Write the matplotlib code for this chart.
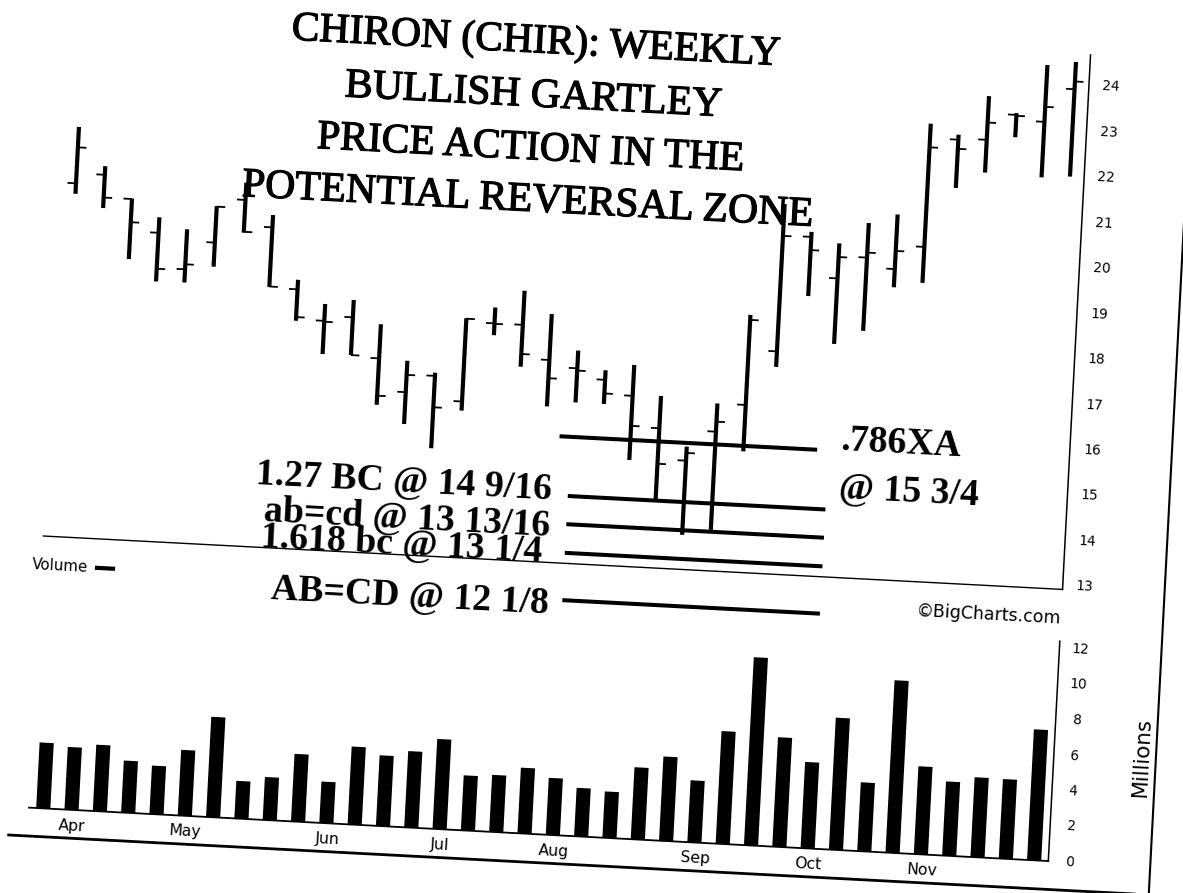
import matplotlib
matplotlib.use("Agg")
import matplotlib.pyplot as plt
import matplotlib.patheffects as pe
from matplotlib.transforms import Affine2D

# ---------------- data ----------------
weeks = list(range(36))
opens = [20.69, 20.91, 20.41, 19.70, 18.93, 19.55, 20.52, 19.95, 18.62, 17.96,
         18.07, 17.20, 16.49, 16.88, 16.35, 18.10, 18.10, 17.36, 17.21, 16.99,
         16.67, 15.99, 15.31, 15.98, 16.60, 17.81, 20.36, 19.48, 19.97, 19.75,
         20.27, 22.66, 22.69, 23.27, 23.15, 23.90]
highs = [21.93, 21.10, 20.42, 20.04, 19.81, 20.35, 20.90, 20.22, 18.83, 18.33,
         18.45, 17.95, 17.18, 16.95, 18.18, 18.45, 18.85, 18.37, 17.60, 17.20,
         17.35, 16.70, 15.62, 16.60, 18.58, 21.05, 20.47, 20.25, 20.73, 20.95,
         22.98, 22.77, 23.65, 23.31, 24.40, 24.50]
lows = [20.46, 20.18, 19.09, 18.63, 18.64, 19.02, 19.80, 18.64, 17.93, 17.23,
        17.24, 16.18, 15.79, 15.29, 16.15, 17.84, 17.18, 16.34, 16.46, 16.46,
        15.26, 14.43, 13.68, 13.82, 15.58, 17.47, 19.06, 18.04, 18.36, 19.35,
        19.48, 21.60, 21.97, 22.78, 21.93, 21.98]
closes = [21.48, 20.41, 19.90, 18.91, 19.04, 20.34, 19.82, 18.65, 18.01, 17.94,
          17.24, 16.38, 16.87, 16.19, 18.17, 18.09, 17.46, 16.96, 17.16, 16.69,
          16.01, 15.21, 15.48, 16.20, 18.47, 20.35, 20.07, 19.95, 20.08, 20.15,
          22.46, 22.46, 23.07, 23.25, 23.48, 24.07]
volume_millions = [3.70, 3.53, 3.74, 2.93, 2.73, 3.70, 5.65, 2.12, 2.42, 3.81,
                   2.33, 4.39, 3.98, 4.30, 5.07, 3.10, 3.21, 3.70, 3.21, 2.73,
                   2.61, 4.06, 4.75, 3.49, 6.35, 10.6, 6.17, 4.86, 7.44, 3.88,
                   9.72, 4.95, 4.18, 4.50, 4.48, 7.37]
month_labels = ["Apr", "May", "Jun", "Jul", "Aug", "Sep", "Oct", "Nov"]
month_weeks = [1, 5, 10, 14, 18, 23, 27, 31]
price_ticks = list(range(13, 25))
volume_ticks = [0, 2, 4, 6, 8, 10, 12]
fib_levels = [15.70, 14.40, 13.78, 13.15, 12.11]
fib_start = [17.5, 17.9, 17.9, 17.9, 17.9]
fib_end = [26.6, 27.0, 27.0, 27.0, 27.0]
fib_left_texts = ["1.27 BC @ 14 9/16", "ab=cd @ 13 13/16",
                  "1.618 bc @ 13 1/4", "AB=CD @ 12 1/8"]
fib_right_texts = [".786XA", "@ 15 3/4"]
title_lines = ["CHIRON (CHIR): WEEKLY", "BULLISH GARTLEY",
               "PRICE ACTION IN THE", "POTENTIAL REVERSAL ZONE"]

# ---------------- layout ----------------
W, H, DPI = 1183, 893, 100
TILT = -3.0
fig = plt.figure(figsize=(W / DPI, H / DPI), dpi=DPI)
fig.patch.set_facecolor("white")
renderer = fig.canvas.get_renderer()

rot = Affine2D().rotate_deg_around(0, H, TILT)
page = Affine2D().scale(1, -1).translate(0, H) + rot   # (x right, y down) pixels, tilted

X0, DX = 85.5, 28.35
rx_left, rx_right = X0 - 0.5 * DX, X0 + 35.5 * DX
p_top, p_bot = -2.2, 533.0
v_top, v_bot = 584.9, 805.0

axp = fig.add_axes([rx_left / W, (H - p_bot) / H, (rx_right - rx_left) / W, (p_bot - p_top) / H])
axp.set_xlim(-0.5, 35.5)
axp.set_ylim(12.92, 24.67)
axp.axis("off")
axv = fig.add_axes([rx_left / W, (H - v_bot) / H, (rx_right - rx_left) / W, (v_bot - v_top) / H])
axv.set_xlim(-0.5, 35.5)
axv.set_ylim(0, 12.4)
axv.axis("off")
Tp = axp.transData + rot
Tv = axv.transData + rot

def fit(s, target, **kw):
    t = fig.text(0, 0, s, fontsize=20, **kw)
    w = t.get_window_extent(renderer).width
    t.remove()
    return 20.0 * target / w

K = dict(color="black", clip_on=False)

# ---------------- price bars ----------------
for i, o, h, l, c in zip(weeks, opens, highs, lows, closes):
    axp.plot([i, i], [l, h], lw=3.0, solid_capstyle="butt", transform=Tp, **K)
    axp.plot([i - 0.3, i], [o, o], lw=1.3, solid_capstyle="butt", transform=Tp, **K)
    axp.plot([i, i + 0.3], [c, c], lw=1.3, solid_capstyle="butt", transform=Tp, **K)

# price frame
axp.plot([-0.5, 35.5], [12.92, 12.92], lw=1.0, transform=Tp, **K)
axp.plot([35.5, 35.5], [12.92, 24.67], lw=1.1, transform=Tp, **K)
tick_fs = fit("24", 17.5, family="DejaVu Sans")
for p in price_ticks:
    axp.text(36.28, p, str(p), fontsize=tick_fs, family="DejaVu Sans", ha="center",
             va="center", rotation=TILT, rotation_mode="anchor", transform=Tp, **K)

# fib lines
for lev, a, b in zip(fib_levels, fib_start, fib_end):
    axp.plot([a, b], [lev, lev], lw=2.9, solid_capstyle="butt", transform=Tp, **K)

# ---------------- volume ----------------
bars = axv.bar(weeks, volume_millions, width=0.5, color="black", linewidth=0, clip_on=False)
for b in bars:
    b.set_transform(Tv)
axv.plot([-0.5, 35.5], [0, 0], lw=1.3, transform=Tv, **K)
axv.plot([35.5, 35.5], [0, 12.4], lw=1.1, transform=Tv, **K)
for v in volume_ticks:
    axv.text(36.24, v, str(v), fontsize=tick_fs, family="DejaVu Sans", ha="center",
             va="center", rotation=TILT, rotation_mode="anchor", transform=Tv, **K)
month_fs = fit("Apr", 27, family="DejaVu Sans")
for lab, wk in zip(month_labels, month_weeks):
    axv.text(wk + 0.05, -0.9, lab, fontsize=month_fs, family="DejaVu Sans", ha="center",
             va="center", rotation=TILT, rotation_mode="anchor", transform=Tv, **K)
# outer frame
axv.plot([-1.17, 39.1], [-1.6, -1.6], lw=2.0, transform=Tv, **K)
axv.plot([39.1, 39.1], [-1.6, 60], lw=1.5, transform=Tv, **K)

# ---------------- texts ----------------
ttl_fs = fit(title_lines[3], 572, family="Liberation Serif")
thick = [pe.withStroke(linewidth=0.9, foreground="black")]
for s, ry in zip(title_lines, [14.0, 68.0, 121.0, 172.8]):
    fig.text(538, ry, s, fontsize=ttl_fs, family="Liberation Serif", ha="center", va="center",
             rotation=TILT, rotation_mode="anchor", transform=page, color="black",
             path_effects=thick)

fib_fs = fit(fib_left_texts[0], 297, family="Liberation Serif", weight="bold")
for s, (rx, ry) in zip(fib_left_texts, [(279.9, 469.0), (289.8, 505.5), (288.2, 531.6), (300.9, 583.1)]):
    fig.text(rx, ry, s, fontsize=fib_fs, family="Liberation Serif", weight="bold", ha="left",
             va="baseline", rotation=TILT, rotation_mode="anchor", transform=page, color="black")
for s, (rx, ry) in zip(fib_right_texts, [(862.3, 405.5), (863.1, 452.2)]):
    fig.text(rx, ry, s, fontsize=fib_fs, family="Liberation Serif", weight="bold", ha="left",
             va="baseline", rotation=TILT, rotation_mode="anchor", transform=page, color="black")

small_fs = fit("Volume", 56, family="DejaVu Sans")
fig.text(61.6, 562, "Volume", fontsize=small_fs, family="DejaVu Sans", ha="left", va="center",
         rotation=TILT, rotation_mode="anchor", transform=page, color="black")
fig.add_artist(plt.Line2D([126.6, 142.6], [562, 562], lw=3.0, color="black", transform=page))

bc_fs = fit("\u00a9BigCharts.com", 145, family="DejaVu Sans")
fig.text(1019.8, 562.4, "\u00a9BigCharts.com", fontsize=bc_fs, family="DejaVu Sans",
         ha="center", va="center", rotation=TILT, rotation_mode="anchor",
         transform=page, color="black")

mil_fs = fit("Millions", 80, family="DejaVu Sans")
fig.text(1179.7, 695.9, "Millions", fontsize=mil_fs, family="DejaVu Sans", ha="center",
         va="center", rotation=90 + TILT, rotation_mode="anchor", transform=page, color="black")

fig.savefig("out.png", dpi=DPI, facecolor="white")
